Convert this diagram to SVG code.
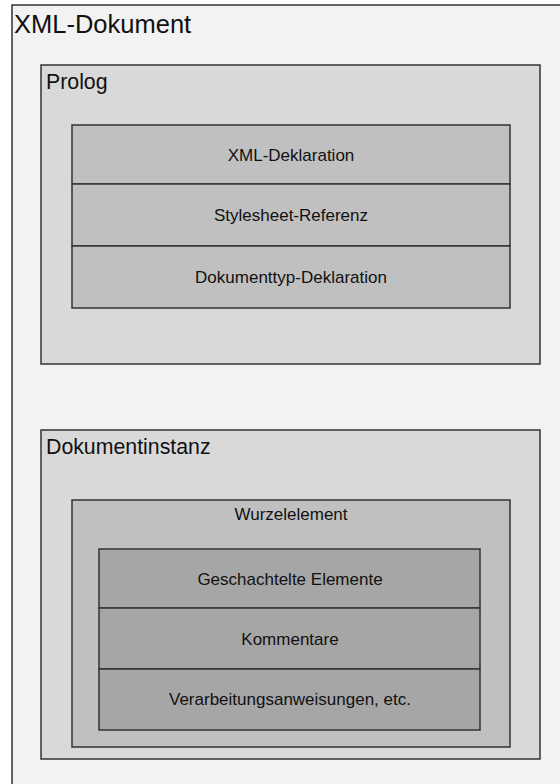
<svg xmlns="http://www.w3.org/2000/svg" width="560" height="784" viewBox="0 0 560 784">
<style>
.box{stroke:#333;stroke-width:1.5}
.l0{fill:#f2f2f2}.l1{fill:#d9d9d9}.l2{fill:#c0c0c0}.l3{fill:#a6a6a6}
text{font-family:"Liberation Sans",Arial,sans-serif;fill:#111}
.t0{font-size:25.5px}.t1{font-size:21.3px}.t2{font-size:17px;text-anchor:middle}
</style>
<rect width="560" height="784" fill="#ffffff"/>
<g id="xml-dokument">
<rect class="box l0" x="12" y="5" width="560" height="800"/>
<text class="t0" x="14" y="33">XML-Dokument</text>
</g>
<g id="prolog">
<rect class="box l1" x="41" y="65" width="499" height="299"/>
<text class="t1" x="46" y="89">Prolog</text>
</g>
<g id="xml-deklaration">
<rect class="box l2" x="72" y="125" width="438" height="59"/>
<text class="t2" x="291" y="161">XML-Deklaration</text>
</g>
<g id="stylesheet-referenz">
<rect class="box l2" x="72" y="184" width="438" height="62"/>
<text class="t2" x="291" y="221">Stylesheet-Referenz</text>
</g>
<g id="dokumenttyp-deklaration">
<rect class="box l2" x="72" y="246" width="438" height="62"/>
<text class="t2" x="291" y="283">Dokumenttyp-Deklaration</text>
</g>
<g id="dokumentinstanz">
<rect class="box l1" x="41" y="430" width="499" height="329"/>
<text class="t1" x="46" y="454">Dokumentinstanz</text>
</g>
<g id="wurzelelement">
<rect class="box l2" x="72" y="500" width="438" height="247"/>
<text class="t2" x="291" y="520">Wurzelelement</text>
</g>
<g id="geschachtelte-elemente">
<rect class="box l3" x="99" y="549" width="381" height="59"/>
<text class="t2" x="290" y="585">Geschachtelte Elemente</text>
</g>
<g id="kommentare">
<rect class="box l3" x="99" y="608" width="381" height="61"/>
<text class="t2" x="290" y="645">Kommentare</text>
</g>
<g id="verarbeitungsanweisungen">
<rect class="box l3" x="99" y="669" width="381" height="61"/>
<text class="t2" x="290" y="705">Verarbeitungsanweisungen, etc.</text>
</g>
<g id="connectors"/>
</svg>
